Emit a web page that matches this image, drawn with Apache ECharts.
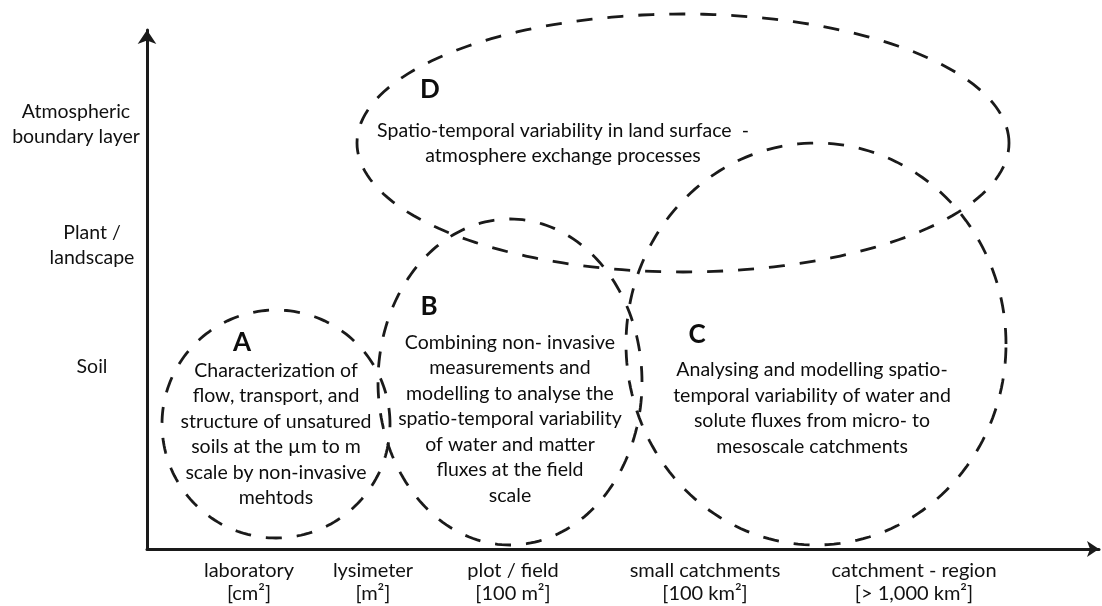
<!DOCTYPE html>
<html>
<head>
<meta charset="utf-8">
<script src="https://cdn.jsdelivr.net/npm/echarts@6/dist/echarts.min.js"></script>
<style>
  html, body { margin: 0; background: #fff; }
  #chart { width: 1102px; height: 606px; }
</style>
</head>
<body>
<div id="chart"></div>
<script>
// scale labels along the x axis (position in axis units)
const scaleLabels = ['laboratory\n[cm²]', 'lysimeter\n[m²]', 'plot / field\n[100 m²]', 'small catchments\n[100 km²]', 'catchment - region\n[> 1,000 km²]'];
const scalePos = [102, 226, 366, 558, 767];
// compartment labels along the y axis
const levelLabels = ['Soil', 'Plant /\nlandscape', 'Atmospheric\nboundary layer'];
const levelPos = [182, 304, 425];

// research regions: ellipse centre and radii in axis units
const regionNames = ['A', 'B', 'C', 'D'];
const regionCx = [129, 363, 669, 536];
const regionCy = [125, 167, 205, 406];
const regionRx = [114, 132, 190, 326];
const regionRy = [114, 163, 201, 129];
const regionText = [
    'Characterization of\nflow, transport, and\nstructure of unsatured\nsoils at the µm to m\nscale by non-invasive\nmehtods',
    'Combining non- invasive\nmeasurements and\nmodelling to analyse the\nspatio-temporal variability\nof water and matter\nfluxes at the field\nscale',
    'Analysing and modelling spatio-\ntemporal variability of water and\nsolute fluxes from micro- to\nmesoscale catchments',
    'Spatio-temporal variability in land surface  -\natmosphere exchange processes',
];

// label offsets from the ellipse centre (pixels)
const letterOffset = [[-34, -81], [-81, -75], [-119, -9], [-253, -53]];
const textOffset = [[0, 10], [0, 37], [-4, 64], [-120, 0]];

const FONT = 'Lato, "Open Sans", sans-serif';
const INK = '#1a1a1a';

const chart = echarts.init(document.getElementById('chart'));

const option = {
    animation: false,
    backgroundColor: '#fff',
    grid: {
        left: 147,
        right: 3,
        top: 30,
        bottom: 57,
    },
    xAxis: {
        type: 'value',
        min: 0,
        max: 952,
        splitLine: { show: false },
        axisTick: { show: false },
        axisLine: {
            lineStyle: { color: INK, width: 3 },
            symbol: ['none', 'arrow'],
            symbolSize: [12, 12],
        },
        axisLabel: {
            customValues: scalePos,
            formatter: (v) => scaleLabels[scalePos.indexOf(v)] || '',
            color: '#111',
            fontFamily: FONT,
            fontSize: 20,
            lineHeight: 23,
            margin: 10,
        },
    },
    yAxis: {
        type: 'value',
        min: 0,
        max: 519,
        splitLine: { show: false },
        axisTick: { show: false },
        axisLine: {
            lineStyle: { color: INK, width: 3 },
            symbol: ['none', 'arrow'],
            symbolSize: [14, 14],
        },
        axisLabel: {
            customValues: levelPos,
            formatter: (v) => {
                const i = levelPos.indexOf(v);
                return i === 2 ? '{w|' + levelLabels[i].replace('\n', '}\n{w|') + '}' : levelLabels[i] || '';
            },
            align: 'center',
            margin: 55,
            color: '#111',
            fontFamily: FONT,
            fontSize: 19.5,
            lineHeight: 25,
            rich: {
                w: {
                    fontFamily: FONT,
                    fontSize: 19.5,
                    lineHeight: 25,
                    color: '#111',
                    padding: [0, 32, 0, 0],
                },
            },
        },
    },
    series: [
        {
            type: 'custom',
            clip: false,
            data: regionNames.map((n, i) => [regionCx[i], regionCy[i], regionRx[i], regionRy[i]]),
            renderItem: (params, api) => {
                const i = params.dataIndex;
                const cx = api.value(0);
                const cy = api.value(1);
                const rx = api.value(2);
                const ry = api.value(3);
                const pts = [];
                for (let k = 0; k < 200; k++) {
                    const t = (k / 200) * Math.PI * 2;
                    pts.push(api.coord([cx + rx * Math.cos(t), cy + ry * Math.sin(t)]));
                }
                const c = api.coord([cx, cy]);
                return {
                    type: 'group',
                    children: [
                        {
                            type: 'polygon',
                            shape: { points: pts },
                            style: { fill: 'none', stroke: INK, lineWidth: 2.8, lineDash: [16, 15] },
                        },
                        {
                            type: 'text',
                            x: c[0] + letterOffset[i][0],
                            y: c[1] + letterOffset[i][1],
                            style: {
                                text: regionNames[i],
                                font: 'bold 26px ' + FONT,
                                fill: '#0d0d0d',
                                align: 'center',
                                verticalAlign: 'middle',
                            },
                        },
                        {
                            type: 'text',
                            x: c[0] + textOffset[i][0],
                            y: c[1] + textOffset[i][1],
                            style: {
                                text: regionText[i],
                                font: '19.5px ' + FONT,
                                lineHeight: 25.5,
                                fill: '#0d0d0d',
                                align: 'center',
                                verticalAlign: 'middle',
                            },
                        },
                    ],
                };
            },
        },
    ],
};

chart.setOption(option);
</script>
</body>
</html>
